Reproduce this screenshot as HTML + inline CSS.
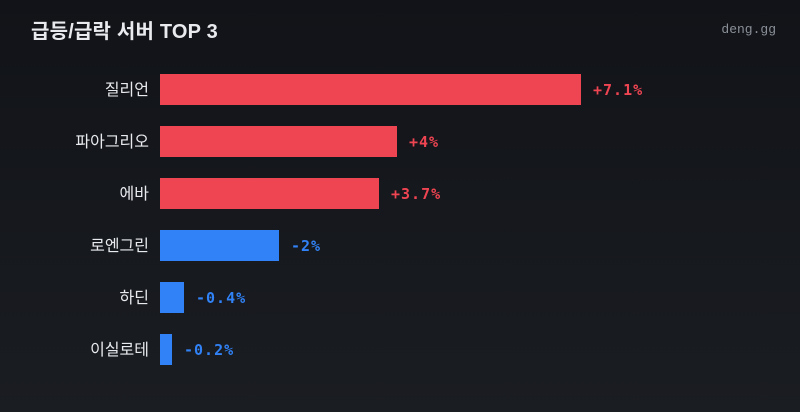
<!DOCTYPE html>
<html><head><meta charset="utf-8"><style>
body{margin:0;width:800px;height:412px;background:linear-gradient(180deg,#111318 0%,#1a1d22 100%);font-family:"Liberation Sans","Noto Sans CJK KR",sans-serif;position:relative;overflow:hidden}
.t{position:absolute;left:31px;top:15px;font-size:20px;font-weight:bold;color:#e8eaed;letter-spacing:0.2px}
.s{position:absolute;right:24px;top:22px;font:13px "Liberation Mono","DejaVu Sans Mono",monospace;color:#8b9098}
.l{position:absolute;right:651px;font-size:16px;color:#e8eaed;line-height:20px}
.b{position:absolute;left:160px;height:31px}
.v{position:absolute;font:bold 15px "DejaVu Sans Mono","Liberation Mono",monospace;line-height:20px;letter-spacing:1px}
.r{background:#ef4452;color:#ef4452}.u{background:#3182f6;color:#3182f6}
.v.r,.v.u{background:none}
</style></head><body>
<div class="t">급등/급락 서버 TOP 3</div>
<div class="s">deng.gg</div>
<div class="l" style="top:81px">질리언</div><div class="b r" style="top:74px;width:421px"></div><div class="v r" style="top:80px;left:593px">+7.1%</div>
<div class="l" style="top:133px">파아그리오</div><div class="b r" style="top:126px;width:237px"></div><div class="v r" style="top:132px;left:409px">+4%</div>
<div class="l" style="top:185px">에바</div><div class="b r" style="top:178px;width:219px"></div><div class="v r" style="top:184px;left:391px">+3.7%</div>
<div class="l" style="top:237px">로엔그린</div><div class="b u" style="top:230px;width:119px"></div><div class="v u" style="top:236px;left:291px">-2%</div>
<div class="l" style="top:289px">하딘</div><div class="b u" style="top:282px;width:24px"></div><div class="v u" style="top:288px;left:196px">-0.4%</div>
<div class="l" style="top:341px">이실로테</div><div class="b u" style="top:334px;width:12px"></div><div class="v u" style="top:340px;left:184px">-0.2%</div>
</body></html>
